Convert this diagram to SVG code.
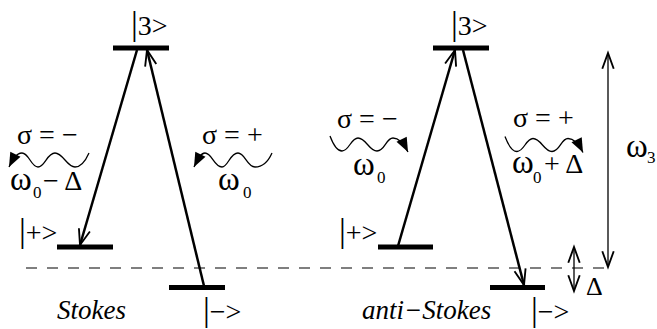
<svg xmlns="http://www.w3.org/2000/svg" width="657" height="329" viewBox="0 0 657 329">
<defs>
<marker id="open" markerUnits="userSpaceOnUse" markerWidth="20" markerHeight="20" refX="0" refY="0" viewBox="-12 -6 14 12" orient="auto" overflow="visible">
<path d="M-11,-4 L0,0 L-11,4" fill="none" stroke="#000" stroke-width="1.3"/>
</marker>
<marker id="openS" markerUnits="userSpaceOnUse" markerWidth="20" markerHeight="20" refX="0" refY="0" viewBox="-2 -6 14 12" orient="auto" overflow="visible">
<path d="M11,-4 L0,0 L11,4" fill="none" stroke="#000" stroke-width="1.3"/>
</marker>
<marker id="fill" markerUnits="userSpaceOnUse" markerWidth="20" markerHeight="20" refX="0" refY="0" viewBox="-12 -6 14 12" orient="auto" overflow="visible">
<path d="M-10,-4 L0,0 L-10,4 Z" fill="#000"/>
</marker>
</defs>

<g id="dashed">
<line x1="26" y1="268" x2="610" y2="268" stroke="#555" stroke-width="1.3" stroke-dasharray="11 10"/>
</g>

<g id="stokes-3">
<line x1="113" y1="48" x2="169" y2="48" stroke="#000" stroke-width="5"/>
<text x="131" y="35" font-family="Liberation Serif" font-size="28"><tspan font-size="34">|</tspan>3&gt;</text>
</g>
<g id="stokes-plus">
<line x1="57" y1="247" x2="113" y2="247" stroke="#000" stroke-width="5"/>
<text x="19" y="242" font-family="Liberation Serif" font-size="28"><tspan font-size="34">|</tspan>+&gt;</text>
</g>
<g id="stokes-minus">
<line x1="169" y1="287.5" x2="225" y2="287.5" stroke="#000" stroke-width="5"/>
<text x="203" y="321" font-family="Liberation Serif" font-size="28"><tspan font-size="34">|</tspan>−&gt;</text>
</g>
<g id="anti-3">
<line x1="433" y1="48" x2="489" y2="48" stroke="#000" stroke-width="5"/>
<text x="451" y="35" font-family="Liberation Serif" font-size="28"><tspan font-size="34">|</tspan>3&gt;</text>
</g>
<g id="anti-plus">
<line x1="378" y1="247" x2="433" y2="247" stroke="#000" stroke-width="5"/>
<text x="339" y="242" font-family="Liberation Serif" font-size="28"><tspan font-size="34">|</tspan>+&gt;</text>
</g>
<g id="anti-minus">
<line x1="490" y1="287.5" x2="545" y2="287.5" stroke="#000" stroke-width="5"/>
<text x="531" y="321" font-family="Liberation Serif" font-size="28"><tspan font-size="34">|</tspan>−&gt;</text>
</g>

<g id="connectors" fill="none" stroke="#000">
<g stroke-width="2.5" marker-end="url(#open)">
<line x1="137" y1="50" x2="80" y2="245"/>
<line x1="204" y1="286" x2="147" y2="50"/>
<line x1="398" y1="246" x2="455" y2="50"/>
<line x1="463" y1="50" x2="524" y2="285"/>
</g>
<g stroke-width="1.3" marker-end="url(#open)" marker-start="url(#openS)">
<line x1="608" y1="53" x2="608" y2="267"/>
<line x1="574" y1="247" x2="574" y2="291"/>
</g>
<g stroke-width="1.3" marker-end="url(#fill)">
<path transform="translate(9,167)" d="M80,-14 C76,-5 71,0 66,0 C58,0 54,-14 46,-14 C38,-14 36,0 29,0 C22,0 20,-14 13,-14 C7,-14 3,-6 0,0"/>
<path transform="translate(194,167)" d="M78,-14 C74,-5 69,0 61,0 C53,0 51,-14 44,-14 C36,-14 34,0 28,0 C20,0 18,-14 11,-14 C6,-14 3,-6 0,0"/>
<path transform="translate(330,136)" d="M0,0 C3,8 7,15 12,15 C19,15 21,2 28,2 C36,2 39,15 47,15 C55,15 56,2 63,2 C70,2 75,10 78,16"/>
<path transform="translate(505,136.5)" d="M0,0 C3,8 7,15 12,15 C19,15 21,2 28,2 C36,2 39,15 47,15 C55,15 56,2 63,2 C70,2 75,10 78,16"/>
</g>
</g>

<g id="labels">
<text x="17" y="144" font-family="Liberation Serif" font-size="28">σ = −</text>
<text x="10" y="190" font-family="Liberation Serif" font-size="28"><tspan font-size="33">ω</tspan><tspan font-size="17" x="33" y="198">0</tspan><tspan x="43" y="190">− Δ</tspan></text>
<text x="202" y="144" font-family="Liberation Serif" font-size="28">σ = +</text>
<text x="218" y="190" font-family="Liberation Serif" font-size="28"><tspan font-size="33">ω</tspan><tspan font-size="17" x="243" y="198">0</tspan></text>
<text x="337" y="128" font-family="Liberation Serif" font-size="28">σ = −</text>
<text x="353" y="175" font-family="Liberation Serif" font-size="28"><tspan font-size="33">ω</tspan><tspan font-size="17" x="377" y="183">0</tspan></text>
<text x="513" y="127" font-family="Liberation Serif" font-size="28">σ = +</text>
<text x="512" y="173" font-family="Liberation Serif" font-size="28"><tspan font-size="33">ω</tspan><tspan font-size="17" x="533" y="183">0</tspan><tspan x="544" y="173">+ Δ</tspan></text>
<text x="626" y="157" font-family="Liberation Serif" font-size="28"><tspan font-size="33">ω</tspan><tspan font-size="17" x="647" y="163">3</tspan></text>
<text x="586" y="295" font-family="Liberation Serif" font-size="26">Δ</text>
<text x="57" y="319" font-family="Liberation Serif" font-style="italic" font-size="27">Stokes</text>
<text x="362" y="319" font-family="Liberation Serif" font-style="italic" font-size="27">anti−Stokes</text>
</g>
</svg>
